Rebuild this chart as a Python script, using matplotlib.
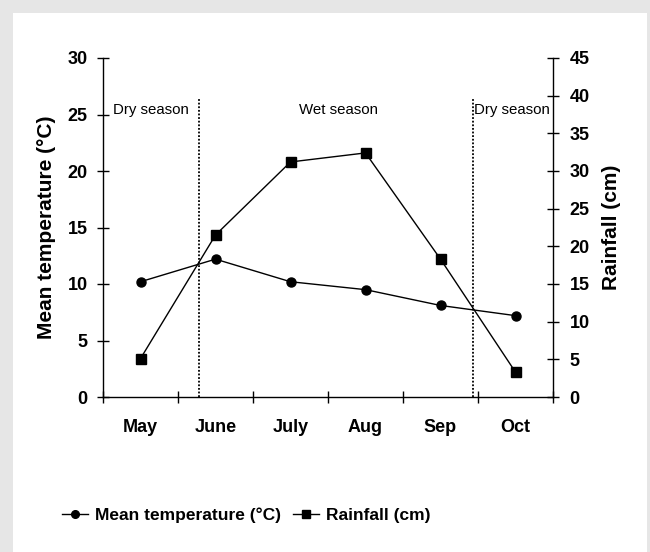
import matplotlib
matplotlib.use("Agg")
import matplotlib.pyplot as plt
from matplotlib.patches import Rectangle
from matplotlib.lines import Line2D
import numpy as np

months = ["May", "June", "July", "Aug", "Sep", "Oct"]
temperature = [10.2, 12.2, 10.2, 9.5, 8.1, 7.2]
rainfall = [5.1, 21.5, 31.2, 32.4, 18.3, 3.3]
left_ticks = [0, 5, 10, 15, 20, 25, 30]
right_ticks = [0, 5, 10, 15, 20, 25, 30, 35, 40, 45]

FONT = ["Liberation Sans", "DejaVu Sans"]
plt.rcParams['font.family'] = FONT

fig = plt.figure(figsize=(6.5, 5.52), dpi=100)
fig.patch.set_facecolor("#e6e6e6")
fig.patches.append(Rectangle((13/650, 0), (647-13)/650, 1-13/552,
                             transform=fig.transFigure, facecolor="white",
                             edgecolor="none", zorder=-10))

ax = fig.add_axes([103/650, 1-397/552, 450/650, 339/552])
ax.patch.set_alpha(0)
ax2 = ax.twinx()

x = np.arange(len(months))
ax.plot(x, temperature, color="black", lw=1, marker="o", ms=6.5)
ax2.plot(x, rainfall, color="black", lw=1, marker="s", ms=6.5)

ax.set_xlim(-0.5, len(months) - 0.5)
ax.set_ylim(0, 30)
ax2.set_ylim(0, 45)
ax.set_yticks(left_ticks)
ax2.set_yticks(right_ticks)

ax.set_xticks(np.arange(-0.5, len(months)), labels=[])
ax.set_xticks(x, labels=months, minor=True)
ax.tick_params(axis="x", which="major", direction="inout", length=9, width=1)
ax.tick_params(axis="x", which="minor", length=0, pad=16, labelsize=13)
for lab in ax.get_xticklabels(minor=True):
    lab.set_fontweight("bold")

ax.tick_params(axis="y", direction="inout", length=8, width=1, labelsize=13, pad=7)
ax2.tick_params(axis="y", direction="inout", length=8, width=1, labelsize=13, pad=8)
for lab in ax.get_yticklabels() + ax2.get_yticklabels():
    lab.set_fontweight("bold")

for a in (ax, ax2):
    a.spines["top"].set_visible(False)
    for s in a.spines.values():
        s.set_linewidth(1)
ax.spines["right"].set_visible(False)
ax2.spines["left"].set_visible(False)
ax2.spines["bottom"].set_visible(False)

ax.set_ylabel("Mean temperature (°C)", fontsize=15, fontweight="bold", labelpad=8)
ax2.set_ylabel("Rainfall (cm)", fontsize=15, fontweight="bold", labelpad=9)

# season boundaries
ax.plot([0.78, 0.78], [0, 26.4], color="black", ls=(0, (1, 1)), lw=1.3)
ax.plot([4.43, 4.43], [0, 26.4], color="black", ls=(0, (1, 1)), lw=1.3)
ax.text(-0.37, 25.4, "Dry season", fontsize=10.8, va="center", ha="left")
ax.text(2.64, 25.4, "Wet season", fontsize=10.8, va="center", ha="center")
ax.text(4.45, 25.4, "Dry season", fontsize=10.8, va="center", ha="left")

handles = [Line2D([], [], color="black", lw=1, marker="o", ms=5.5),
           Line2D([], [], color="black", lw=1, marker="s", ms=5.5)]
fig.legend(handles, ["Mean temperature (°C)", "Rainfall (cm)"],
           loc="center", bbox_to_anchor=(246/650, 1-515/552), ncol=2,
           frameon=False, handlelength=1.5, handletextpad=0.4, columnspacing=0.7,
           prop={"family": FONT, "weight": "bold", "size": 12.5})

fig.savefig("out.png", dpi=100, facecolor=fig.get_facecolor())
